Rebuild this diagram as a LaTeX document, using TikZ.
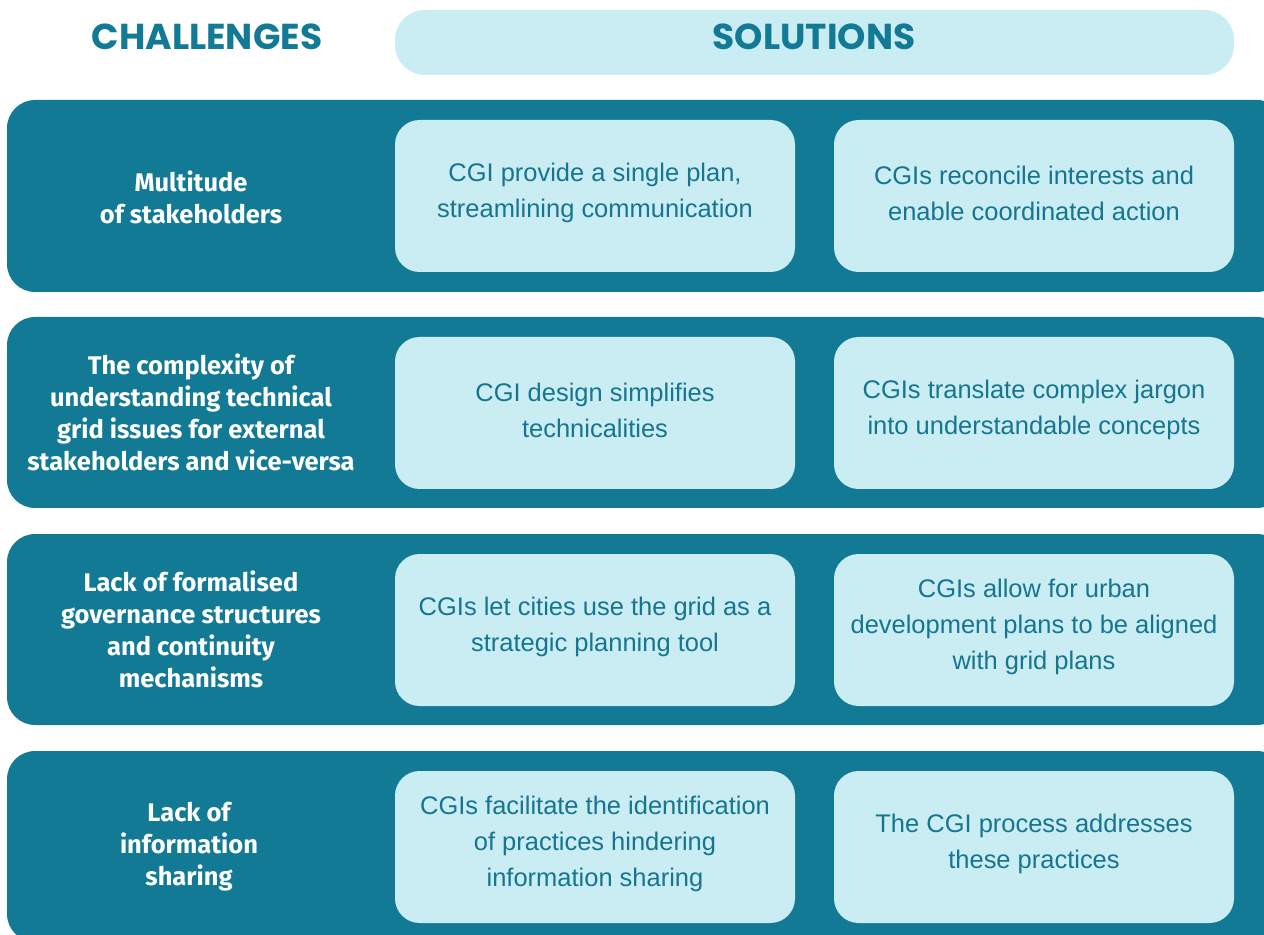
\documentclass[tikz,border=0pt]{standalone}
\usepackage{fontspec}
\setmainfont{Liberation Sans}
\newfontfamily\chfont{Fira Sans}
\newfontfamily\hdfont{Poppins}
\definecolor{teal1}{HTML}{127A95}
\definecolor{light1}{HTML}{CAEDF4}
\definecolor{soltext}{HTML}{16758F}
\tikzset{
  band/.style={fill=teal1, draw=none, rounded corners=16pt},
  solbox/.style={fill=light1, draw=none, rounded corners=14pt},
  soltxt/.style={text=soltext, align=center, font=\fontsize{14.5}{20.5}\selectfont},
  chtxt/.style={text=white, align=center, font=\chfont\bfseries\fontsize{14.5}{18.2}\selectfont},
  hdtxt/.style={text=teal1, font=\hdfont\bfseries\fontsize{20.5}{24}\selectfont}
}
\begin{document}
\begin{tikzpicture}[x=0.02cm,y=-0.02cm]
\useasboundingbox (0,0) rectangle (1264,935);
\begin{scope}
\clip (0,0) rectangle (1264,935);
% header
\fill[light1, rounded corners=17pt] (395,10) rectangle (1234,75);
\node[hdtxt] (hch) at (207,37) {CHALLENGES};
\node[hdtxt] (hsol) at (814,37) {SOLUTIONS};
% bands
\foreach \t/\b in {100/292, 317/508, 534/725, 751/942} {
  \fill[band] (7,\t) rectangle (1285,\b);
}
% solution boxes
\foreach \t in {120,337,554,771} {
  \fill[solbox] (395,\t) rectangle (795,\t+152);
  \fill[solbox] (834,\t) rectangle (1234,\t+152);
}
\end{scope}
% challenge texts
\node[chtxt] (c1) at (191,197) {Multitude\\ of stakeholders};
\node[chtxt] (c2) at (191,412) {The complexity of\\ understanding technical\\ grid issues for external\\ stakeholders and vice-versa};
\node[chtxt] (c3) at (191,629) {Lack of formalised\\ governance structures\\ and continuity\\ mechanisms};
\node[chtxt] (c4) at (189,847) {Lack of\\ information\\ sharing};
% solution texts
\node[soltxt] (s11) at (595,193) {CGI provide a single plan,\\ streamlining communication};
\node[soltxt] (s12) at (1034,193) {CGIs reconcile interests and\\ enable coordinated action};
\node[soltxt] (s21) at (595,410) {CGI design simplifies\\ technicalities};
\node[soltxt] (s22) at (1034,410) {CGIs translate complex jargon\\ into understandable concepts};
\node[soltxt] (s31) at (595,627) {CGIs let cities use the grid as a\\ strategic planning tool};
\node[soltxt] (s32) at (1034,627) {CGIs allow for urban\\ development plans to be aligned\\ with grid plans};
\node[soltxt] (s41) at (595,844) {CGIs facilitate the identification\\ of practices hindering\\ information sharing};
\node[soltxt] (s42) at (1034,844) {The CGI process addresses\\ these practices};
\end{tikzpicture}
\end{document}
